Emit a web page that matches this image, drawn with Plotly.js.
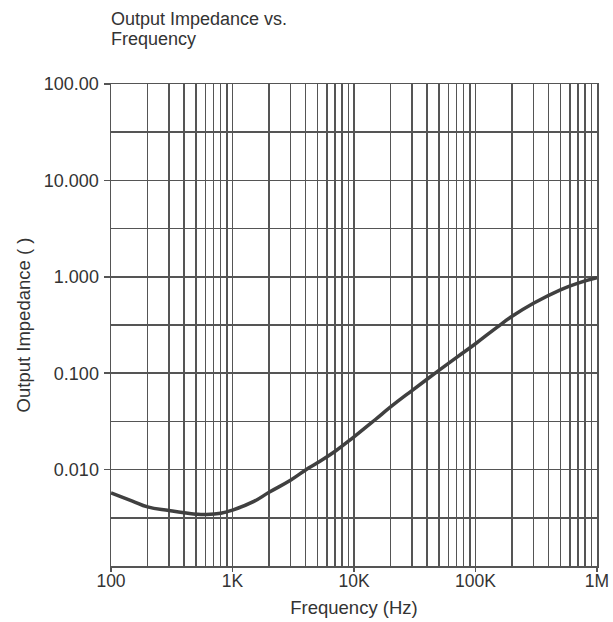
<!DOCTYPE html>
<html>
<head>
<meta charset="utf-8">
<script src="https://cdn.plot.ly/plotly-3.0.1.min.js"></script>
<style>
html,body{margin:0;padding:0;background:#fff;}
#chart{width:613px;height:622px;}
</style>
</head>
<body>
<div id="chart"></div>
<script>
// Frequency (Hz) and output impedance (ohm)
const freq = [100, 150, 200, 300, 400, 500, 600, 800, 1000, 1500, 2000, 3000, 4000, 5000, 7000,
  10000, 15000, 20000, 30000, 50000, 70000, 100000, 150000, 200000, 300000, 500000, 700000, 1000000];
const impedance = [0.00573, 0.00472, 0.00410, 0.00376, 0.00356, 0.00345, 0.00342, 0.00352, 0.0038, 0.00468, 0.00582, 0.00775, 0.0099, 0.01175, 0.0155,
  0.0219, 0.0331, 0.0447, 0.0661, 0.107, 0.146, 0.202, 0.299, 0.389, 0.531, 0.733, 0.861, 0.977];

const xTickVals = [100, 1000, 10000, 100000, 1000000];
const xTickText = ['100', '1K', '10K', '100K', '1M'];
const yTickVals = [0.01, 0.1, 1, 10, 100];
const yTickText = ['0.010', '0.100', '1.000', '10.000', '100.00'];
const titleLines = ['Output Impedance vs.', 'Frequency'];

// minor grid: 2..9 within each x decade, half-decade on y
const xMinor = [];
for (let d = 100; d < 1000000; d *= 10) for (let k = 2; k <= 9; k++) xMinor.push(d * k);
const yMinor = [];
for (let d = 0.001; d < 100; d *= 10) yMinor.push(d * Math.sqrt(10));

const gridCol = '#555';
const txtCol = '#333';
const fontFam = 'Liberation Sans, Arial, sans-serif';
const plotH = 622 - 84 - 56;

Plotly.newPlot('chart', [{
  x: freq, y: impedance, type: 'scatter', mode: 'lines',
  line: {color: '#404040', width: 3.5, shape: 'spline', smoothing: 1.3},
  hoverinfo: 'skip'
}], {
  width: 613, height: 622,
  margin: {l: 111, r: 16, t: 84, b: 56},
  paper_bgcolor: '#fff', plot_bgcolor: '#fff',
  showlegend: false,
  font: {family: fontFam, size: 18, color: txtCol},
  title: {
    text: titleLines[0],
    x: 0, xref: 'paper', xanchor: 'left',
    y: 1 - 18.5 / 622, yref: 'container', yanchor: 'middle',
    font: {family: fontFam, size: 18, color: txtCol}
  },
  annotations: [{
    text: titleLines[1], xref: 'paper', yref: 'paper',
    x: 0, y: 1 + (84 - 39) / plotH, xanchor: 'left', yanchor: 'middle',
    showarrow: false, xshift: -2,
    font: {family: fontFam, size: 18, color: txtCol}
  }],
  xaxis: {
    type: 'log', range: [2, 6],
    tickmode: 'array', tickvals: xTickVals, ticktext: xTickText,
    ticks: 'outside', ticklen: 4, tickcolor: gridCol, tickwidth: 1.5,
    ticklabelstandoff: -6,
    showgrid: true, gridcolor: gridCol, gridwidth: 1.5,
    showline: true, linecolor: gridCol, linewidth: 1.5, mirror: true,
    zeroline: false,
    minor: {tickmode: 'array', tickvals: xMinor, showgrid: true, gridcolor: gridCol, gridwidth: 1.5, ticks: ''},
    title: {text: 'Frequency (Hz)', standoff: 11, font: {family: fontFam, size: 18.5, color: txtCol}},
    tickfont: {family: fontFam, size: 17.5, color: txtCol}
  },
  yaxis: {
    type: 'log', range: [-3, 2],
    tickmode: 'array', tickvals: yTickVals, ticktext: yTickText,
    ticks: 'outside', ticklen: 6, tickcolor: gridCol, tickwidth: 1.5,
    ticklabelstandoff: 1,
    showgrid: true, gridcolor: gridCol, gridwidth: 1.5,
    showline: true, linecolor: gridCol, linewidth: 1.5, mirror: true,
    zeroline: false,
    minor: {tickmode: 'array', tickvals: yMinor, showgrid: true, gridcolor: gridCol, gridwidth: 1.5, ticks: ''},
    title: {text: 'Output Impedance ( )', standoff: 8, font: {family: fontFam, size: 18.5, color: txtCol}},
    tickfont: {family: fontFam, size: 18, color: txtCol}
  }
}, {staticPlot: true});
</script>
</body>
</html>
